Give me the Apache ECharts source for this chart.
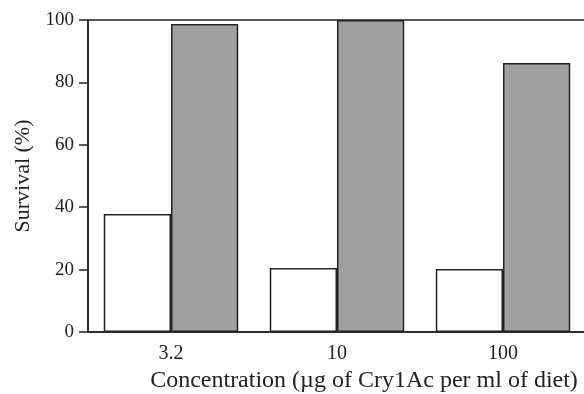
<!DOCTYPE html>
<html>
<head>
<meta charset="utf-8">
<script src="https://cdn.jsdelivr.net/npm/echarts@6/dist/echarts.min.js"></script>
<style>
  html, body { margin: 0; padding: 0; background: #fff; }
  #chart { width: 584px; height: 394px; }
</style>
</head>
<body>
<div id="chart"></div>
<script>
const categories = ["3.2", "10", "100"];
const controlValues = [37.8, 20.5, 20.2];
const resistantValues = [98.7, 100, 86.2];
const yTicks = [0, 20, 40, 60, 80, 100];

const serif = "Liberation Serif";
const ink = "#222";

const chart = echarts.init(document.getElementById("chart"), null, { renderer: "canvas" });

chart.setOption({
  animation: false,
  backgroundColor: "#fff",
  grid: {
    left: 88,
    top: 20,
    width: 498,
    bottom: 62,
    outerBoundsMode: "none",
    containLabel: false,
    show: true,
    borderColor: ink,
    borderWidth: 1.5,
    backgroundColor: "transparent"
  },
  xAxis: {
    type: "category",
    data: categories,
    name: "Concentration (\u00b5g of Cry1Ac per ml of diet)",
    nameLocation: "middle",
    nameGap: 31,
    // the original plot continues past the crop, so the title sits right of centre
    nameTextStyle: { fontFamily: serif, fontSize: 24, color: ink, padding: [0, 0, 0, 54] },
    axisLine: { lineStyle: { color: ink, width: 1.5 } },
    axisTick: { show: false },
    axisLabel: { fontFamily: serif, fontSize: 20, color: ink, margin: 12 }
  },
  yAxis: {
    type: "value",
    min: yTicks[0],
    max: yTicks[yTicks.length - 1],
    interval: 20,
    name: "Survival (%)",
    nameLocation: "middle",
    nameGap: 54,
    nameTextStyle: { fontFamily: serif, fontSize: 22, color: ink },
    axisLine: { show: true, lineStyle: { color: ink, width: 1.5 } },
    axisTick: { show: true, length: 9, lineStyle: { color: ink, width: 1.5 } },
    axisLabel: { fontFamily: serif, fontSize: 19, color: ink, margin: 14 },
    splitLine: { show: false }
  },
  series: [
    {
      type: "bar",
      data: controlValues,
      barGap: "0%",
      barCategoryGap: "19%",
      itemStyle: { color: "#fff", borderColor: ink, borderWidth: 1.5 }
    },
    {
      type: "bar",
      data: resistantValues,
      itemStyle: { color: "#a0a0a0", borderColor: ink, borderWidth: 1.5 }
    }
  ]
});
</script>
</body>
</html>
